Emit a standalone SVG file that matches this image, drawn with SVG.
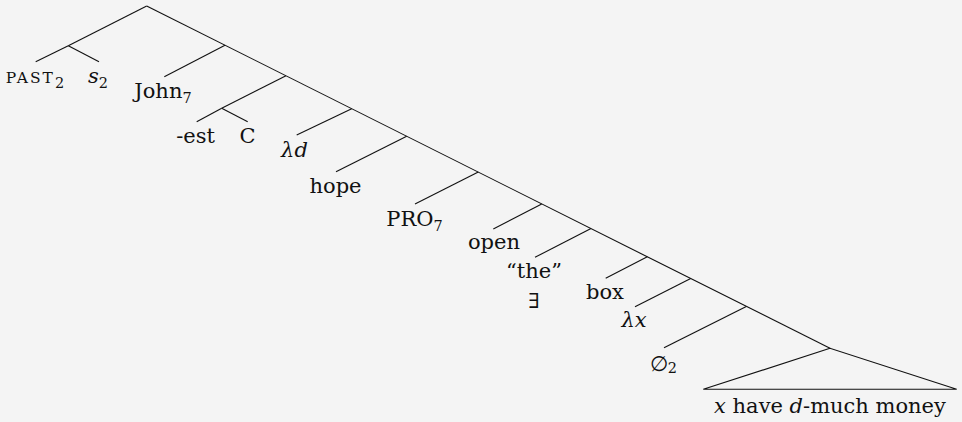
<svg xmlns="http://www.w3.org/2000/svg" width="962" height="422" viewBox="0 0 962 422">
<style>
text{font-family:"DejaVu Serif","Liberation Serif",serif;font-size:21px;fill:#111;text-anchor:middle}
.i{font-style:italic}
.sub{font-size:14.5px;font-style:normal}
.sc{font-size:15.5px;letter-spacing:2px}
.e line,.e polyline,.e polygon{stroke:#111;stroke-width:1.1;fill:none}
</style>
<rect width="962" height="422" fill="#f4f4f4"/>
<g id="connectors" class="e">
<polyline points="146.7,6 830,348.3"/>
<line x1="146.7" y1="6" x2="68.3" y2="45.7"/>
<line x1="68.3" y1="45.7" x2="35.7" y2="61.7"/>
<line x1="68.3" y1="45.7" x2="99" y2="61.7"/>
<line x1="225" y1="45.2" x2="164.3" y2="76.7"/>
<line x1="286" y1="75.8" x2="221.7" y2="108.3"/>
<line x1="221.7" y1="108.3" x2="196.7" y2="121.7"/>
<line x1="221.7" y1="108.3" x2="247.7" y2="121.7"/>
<line x1="351.7" y1="108.7" x2="296.7" y2="135"/>
<line x1="406.7" y1="136.3" x2="336" y2="171.7"/>
<line x1="478.3" y1="172.1" x2="415" y2="204"/>
<line x1="541.7" y1="203.9" x2="493.3" y2="229"/>
<line x1="591" y1="228.6" x2="535" y2="257.3"/>
<line x1="647.3" y1="256.8" x2="605.7" y2="278.3"/>
<line x1="690.7" y1="278.5" x2="635" y2="306.7"/>
<line x1="746.3" y1="306.4" x2="664" y2="347.7"/>
<polygon points="830,348.3 703.3,389.3 956.7,389.3"/>
</g>
<g id="n-past"><text x="35" y="82.7"><tspan class="sc">PAST</tspan><tspan class="sub" dy="5">2</tspan></text></g>
<g id="n-s"><text x="98" y="82.7"><tspan class="i">s</tspan><tspan class="sub" dy="5">2</tspan></text></g>
<g id="n-john"><text x="163" y="97.7">John<tspan class="sub" dy="5">7</tspan></text></g>
<g id="n-est"><text x="195.5" y="142.7">-est</text></g>
<g id="n-c"><text x="247.5" y="142.7">C</text></g>
<g id="n-lambdad"><text x="294.5" y="156.7" class="i">λd</text></g>
<g id="n-hope"><text x="335.5" y="192.7">hope</text></g>
<g id="n-pro"><text x="414.5" y="226">PRO<tspan class="sub" dy="5">7</tspan></text></g>
<g id="n-open"><text x="494" y="249.3">open</text></g>
<g id="n-the"><text x="534" y="278.3">“the”</text><text x="534" y="308.3">∃</text></g>
<g id="n-box"><text x="605" y="299.3">box</text></g>
<g id="n-lambdax"><text x="634" y="326.7" class="i">λx</text></g>
<g id="n-empty"><text x="663.3" y="371">∅<tspan class="sub" dy="2">2</tspan></text></g>
<g id="n-clause"><text x="830" y="413.3"><tspan class="i">x</tspan> have <tspan class="i">d</tspan>-much money</text></g>
</svg>
